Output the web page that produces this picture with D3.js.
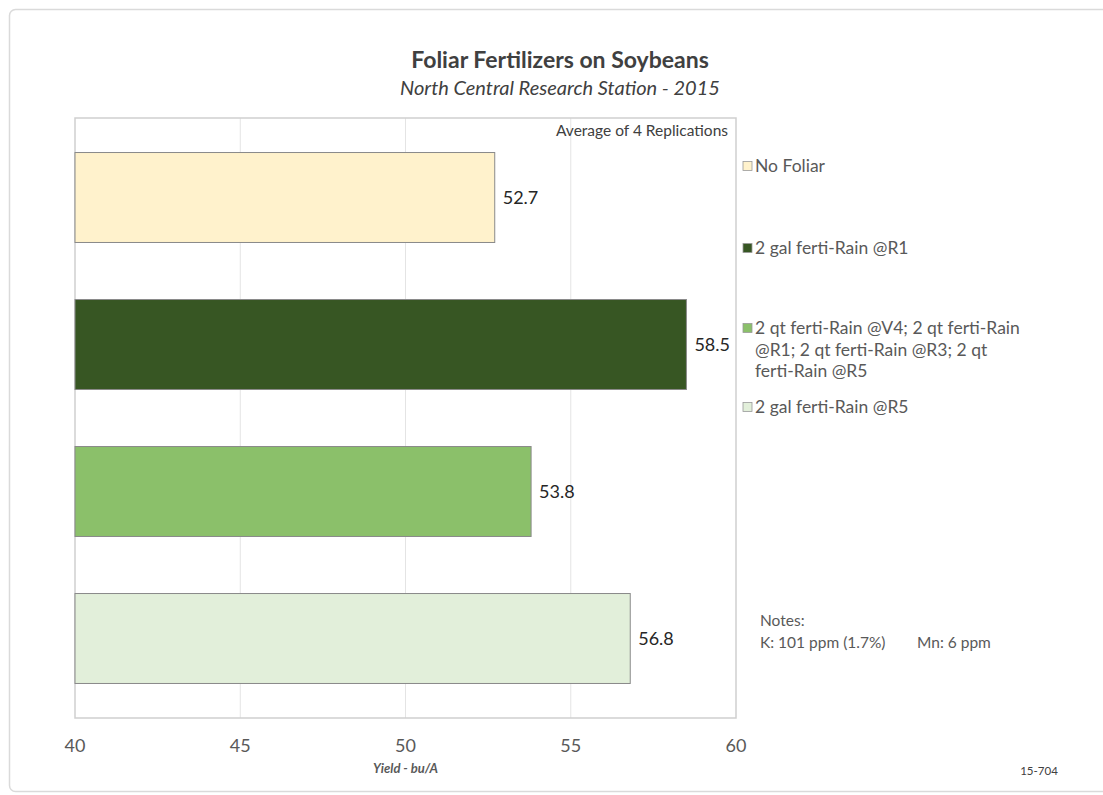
<!DOCTYPE html>
<html>
<head>
<meta charset="utf-8">
<script src="https://cdn.jsdelivr.net/npm/d3@7"></script>
<style>
  body { margin: 0; background: #fff; }
  text { font-family: Lato, "Open Sans", sans-serif; }
</style>
</head>
<body>
<div id="chart"></div>
<script>
// data
var categories = ["No Foliar", "2 gal ferti-Rain @R1",
  "2 qt ferti-Rain @V4; 2 qt ferti-Rain @R1; 2 qt ferti-Rain @R3; 2 qt ferti-Rain @R5",
  "2 gal ferti-Rain @R5"]
var yields = [52.7, 58.5, 53.8, 56.8]
var colors = ["#fff2cc", "#375623", "#8bc06a", "#e2efda"]
var xTicks = [40, 45, 50, 55, 60]
// legend labels wrapped the way the picture shows them
var legendLines = [["No Foliar"], ["2 gal ferti-Rain @R1"],
  ["2 qt ferti-Rain @V4; 2 qt ferti-Rain", "@R1; 2 qt ferti-Rain @R3; 2 qt", "ferti-Rain @R5"],
  ["2 gal ferti-Rain @R5"]]
var legendY = [166, 248, 328, 407]

var W = 1103, H = 795
var plot = { left: 75, right: 736, top: 118, bottom: 718 }

var svg = d3.select("#chart").append("svg")
  .attr("width", W)
  .attr("height", H)

// outer frame (rounded, runs off the right edge)
svg.append("rect")
  .attr("x", 9.5).attr("y", 9.5)
  .attr("width", W + 20).attr("height", 782)
  .attr("rx", 6)
  .attr("fill", "none")
  .attr("stroke", "#dadada")
  .attr("stroke-width", 1.5)

var x = d3.scaleLinear()
  .domain([40, 60])
  .range([plot.left, plot.right])

var y = d3.scaleBand()
  .domain(categories)
  .range([124, 712])
  .paddingInner(0.388)
  .paddingOuter(0.194)

// gridlines
svg.append("g")
  .selectAll("line")
  .data(xTicks.slice(1, -1))
  .enter().append("line")
  .attr("x1", d => x(d)).attr("x2", d => x(d))
  .attr("y1", plot.top).attr("y2", plot.bottom)
  .attr("stroke", "#e4e4e4")
  .attr("stroke-width", 1)

// plot frame
svg.append("rect")
  .attr("x", plot.left).attr("y", plot.top)
  .attr("width", plot.right - plot.left)
  .attr("height", plot.bottom - plot.top)
  .attr("fill", "none")
  .attr("stroke", "#cfcfcf")
  .attr("stroke-width", 1.5)

svg.selectAll("rect.bar")
  .data(yields)
  .enter().append("rect")
  .attr("class", "bar")
  .attr("x", x(40))
  .attr("y", (d, i) => y(categories[i]))
  .attr("width", d => x(d) - x(40))
  .attr("height", y.bandwidth())
  .attr("fill", (d, i) => colors[i])
  .attr("stroke", "#8a8a8a")
  .attr("stroke-width", 1)

svg.selectAll("text.label")
  .data(yields)
  .enter().append("text")
  .attr("class", "label")
  .attr("x", d => x(d) + 8)
  .attr("y", (d, i) => y(categories[i]) + y.bandwidth() / 2)
  .attr("dy", ".35em")
  .attr("font-size", "18px")
  .attr("fill", "#262626")
  .text(d => d.toFixed(1))

// x axis labels
svg.append("g")
  .selectAll("text")
  .data(xTicks)
  .enter().append("text")
  .attr("x", d => x(d))
  .attr("y", 752)
  .attr("text-anchor", "middle")
  .attr("font-size", "18px")
  .attr("fill", "#595959")
  .text(d => d)

svg.append("text")
  .attr("x", x(50))
  .attr("y", 773)
  .attr("text-anchor", "middle")
  .attr("font-size", "13px")
  .attr("font-weight", "bold")
  .attr("font-style", "italic")
  .attr("fill", "#595959")
  .text("Yield - bu/A")

// titles
svg.append("text")
  .attr("x", 560).attr("y", 68)
  .attr("text-anchor", "middle")
  .attr("font-size", "23px")
  .attr("font-weight", "bold")
  .attr("fill", "#404040")
  .text("Foliar Fertilizers on Soybeans")

svg.append("text")
  .attr("x", 560).attr("y", 95)
  .attr("text-anchor", "middle")
  .attr("font-size", "20px")
  .attr("font-style", "italic")
  .attr("fill", "#404040")
  .text("North Central Research Station - 2015")

svg.append("text")
  .attr("x", 728).attr("y", 136)
  .attr("text-anchor", "end")
  .attr("font-size", "15.5px")
  .attr("fill", "#404040")
  .text("Average of 4 Replications")

// legend
var leg = svg.append("g")
  .selectAll("g")
  .data(categories)
  .enter().append("g")
  .attr("transform", (d, i) => "translate(743," + legendY[i] + ")")

leg.append("rect")
  .attr("x", 0).attr("y", -4.5)
  .attr("width", 9).attr("height", 9)
  .attr("fill", (d, i) => colors[i])
  .attr("stroke", "#9a9a9a")
  .attr("stroke-width", 0.8)

leg.append("text")
  .attr("font-size", "17.5px")
  .attr("fill", "#595959")
  .selectAll("tspan")
  .data((d, i) => legendLines[i])
  .enter().append("tspan")
  .attr("x", 12)
  .attr("y", (d, j) => j * 21.5)
  .attr("dy", ".35em")
  .text(d => d)

// notes
svg.append("text")
  .attr("x", 760).attr("y", 626)
  .attr("font-size", "15.5px")
  .attr("fill", "#595959")
  .text("Notes:")

svg.append("text")
  .attr("x", 760).attr("y", 648)
  .attr("font-size", "15.5px")
  .attr("fill", "#595959")
  .text("K: 101 ppm (1.7%)")

svg.append("text")
  .attr("x", 917).attr("y", 648)
  .attr("font-size", "15.5px")
  .attr("fill", "#595959")
  .text("Mn: 6 ppm")

svg.append("text")
  .attr("x", 1039).attr("y", 775)
  .attr("text-anchor", "middle")
  .attr("font-size", "11.5px")
  .attr("fill", "#404040")
  .text("15-704")
</script>
</body>
</html>
